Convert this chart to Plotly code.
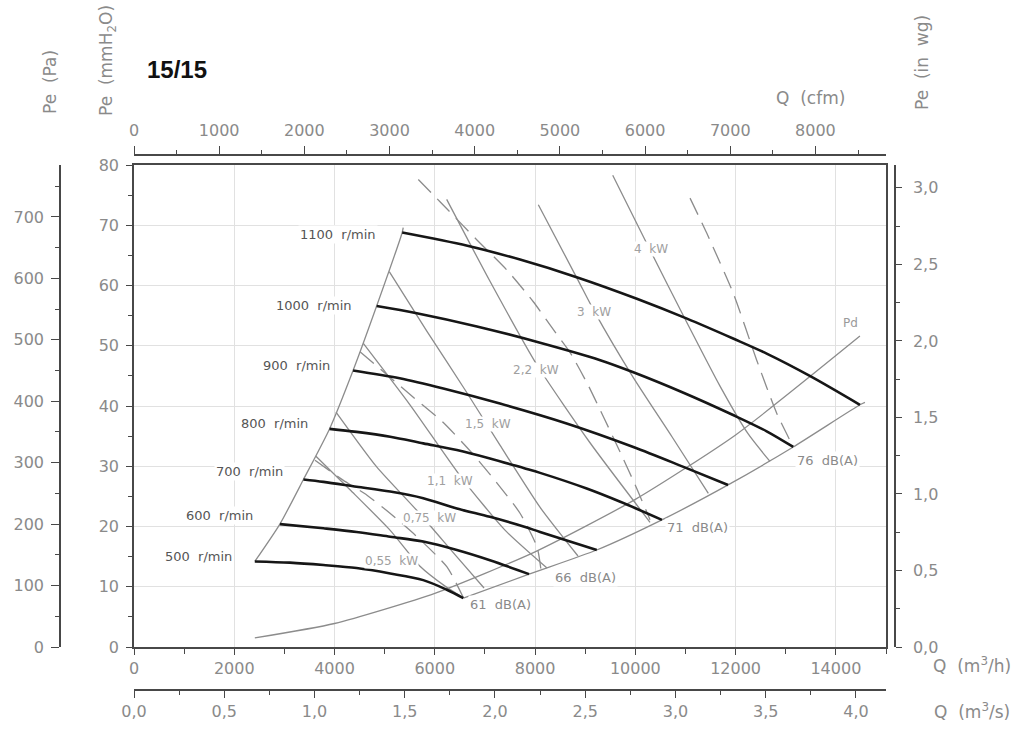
import plotly.graph_objects as go

W, H = 1022, 734

# ---------------- data (Q in m3/h, Pe in mmH2O) ----------------
speeds = [500, 600, 700, 800, 900, 1000, 1100]

q_500 = [2410, 3110, 3780, 4440, 5110, 5770, 6240, 6570]
pe_500 = [14.2, 14.0, 13.6, 13.1, 12.2, 11.1, 9.5, 8.1]
q_600 = [2910, 3780, 4440, 5110, 5770, 6440, 7100, 7880]
pe_600 = [20.4, 19.7, 19.1, 18.3, 17.5, 16.1, 14.4, 12.1]
q_700 = [3380, 3780, 4440, 5110, 5770, 6440, 7100, 7770, 8100, 9230]
pe_700 = [27.8, 27.4, 26.6, 25.8, 24.7, 23.0, 21.6, 20.0, 19.1, 16.1]
q_800 = [3900, 4440, 5110, 5770, 6440, 7100, 7770, 8100, 9030, 9700, 10530]
pe_800 = [36.2, 35.7, 34.9, 33.8, 32.7, 31.3, 29.7, 28.9, 26.3, 24.1, 21.1]
q_900 = [4370, 5300, 6170, 7300, 8630, 9960, 10960, 11850]
pe_900 = [45.9, 44.6, 42.9, 40.4, 37.1, 33.2, 29.9, 26.9]
q_1000 = [4840, 5640, 6840, 8100, 9300, 9960, 10960, 11950, 12620, 13150]
pe_1000 = [56.6, 55.4, 53.2, 50.5, 47.6, 45.6, 42.2, 38.5, 35.8, 33.2]
q_1100 = [5350, 6650, 7700, 8860, 10030, 11030, 11950, 12620, 13480, 14480]
pe_1100 = [68.8, 66.6, 64.3, 61.3, 57.8, 54.5, 51.2, 48.7, 45.0, 40.2]

# boundary extensions beyond the last speed curve
surge_top_q, surge_top_pe = [5370], [69.6]
limit_end_q, limit_end_pe = [14580], [40.6]

# dynamic pressure curve
pd_q = [2410, 4000, 6000, 8000, 10000, 12000, 14480]
pd_pe = [1.5, 3.9, 8.9, 15.8, 24.5, 35.2, 51.6]

# absorbed power lines
kw_labels = ["0,55 kW", "0,75 kW", "1,1 kW", "1,5 kW", "2,2 kW", "3 kW", "4 kW"]
kw055_q = [3624, 4309, 5106, 5705, 6204, 6503]
kw055_pe = [31.7, 26.1, 19.4, 13.4, 10.1, 8.5]
kw075_q = [4029, 4841, 5639, 6437, 6982]
kw075_pe = [39.0, 29.9, 22.7, 15.0, 9.8]
kw11_q = [4574, 5505, 6542, 7400, 8238]
kw11_pe = [50.4, 40.2, 28.0, 19.4, 13.1]
kw15_q = [5092, 5844, 6602, 7300, 8098, 8856]
kw15_pe = [62.3, 52.4, 42.7, 33.5, 23.2, 15.1]
kw22_q = [6237, 7101, 8039, 9096, 10293]
kw22_pe = [74.3, 60.7, 46.8, 33.9, 20.7]
kw3_q = [8065, 8856, 9176, 9954, 10731, 11456]
kw3_pe = [73.4, 60.9, 55.8, 44.8, 34.9, 25.5]
kw4_q = [9549, 10293, 11025, 11689, 12248, 12686]
kw4_pe = [78.3, 65.9, 53.9, 43.3, 35.4, 30.8]

# sound level lines
db_labels = ["61 dB(A)", "66 dB(A)", "71 dB(A)", "76 dB(A)"]
db61_q = [3610, 4169, 4648, 5106, 5645, 6243, 6563]
db61_pe = [31.0, 27.7, 25.2, 22.2, 18.3, 13.3, 8.3]
db66_q = [4508, 5565, 6164, 6742, 7241, 7700, 8039, 8118]
db66_pe = [49.0, 41.5, 37.3, 32.2, 27.2, 22.2, 16.6, 12.8]
db71_q = [5671, 6104, 6836, 7434, 7965, 8398, 8697, 9056, 9375, 9694, 10013, 10293]
db71_pe = [77.6, 73.9, 67.6, 62.6, 57.3, 52.3, 48.9, 43.5, 38.0, 32.4, 26.6, 21.1]
db76_q = [11091, 11424, 11954, 12421, 12820, 13151]
db76_pe = [74.5, 68.7, 58.7, 47.6, 38.8, 33.2]

# axis ticks
q_ticks = [0, 2000, 4000, 6000, 8000, 10000, 12000, 14000]
pe_ticks = [0, 10, 20, 30, 40, 50, 60, 70, 80]
pa_ticks = [0, 100, 200, 300, 400, 500, 600, 700]
cfm_ticks = [0, 1000, 2000, 3000, 4000, 5000, 6000, 7000, 8000]
m3s_ticks = [0, 0.5, 1.0, 1.5, 2.0, 2.5, 3.0, 3.5, 4.0]
inwg_ticks = [0, 0.5, 1.0, 1.5, 2.0, 2.5, 3.0]

Q_MAX, PE_MAX = 15000, 80
CFM_PER_M3H = 1 / 1.699011
PA_PER_MM = 9.80665
INWG_PER_MM = 1 / 25.4

# label placements (data coords)
kw_label_pos = [(5146, 14.2), (5904, 21.4), (6303, 27.6), (7061, 37.0),
                (8019, 46.0), (9176, 55.6), (10313, 66.1)]
db_label_pos = [(6662, 7.0), (8358, 11.6), (10592, 19.9), (13185, 31.0)]
rpm_label_pos = [(1995, 15.1), (2414, 21.9), (3012, 29.1), (3511, 37.1),
                 (3943, 46.8), (4388, 56.7), (4867, 68.5)]
pd_label_pos = (14282, 53.8)

# ---------------- figure ----------------
def px_x(x):
    return x / W


def px_y(y):
    return (H - y) / H


fig = go.Figure()

GREY = '#8c8c8c'


def add_line(q, p, color=GREY, width=1.3, dash=None, smooth=0.6):
    fig.add_trace(go.Scatter(
        x=q, y=p, mode='lines', hoverinfo='skip', showlegend=False,
        line=dict(color=color, width=width, dash=dash, shape='spline', smoothing=smooth),
        xaxis='x', yaxis='y'))


curves_q = [q_500, q_600, q_700, q_800, q_900, q_1000, q_1100]
curves_pe = [pe_500, pe_600, pe_700, pe_800, pe_900, pe_1000, pe_1100]

add_line(pd_q, pd_pe)
add_line([c[0] for c in curves_q] + surge_top_q, [c[0] for c in curves_pe] + surge_top_pe)
add_line([c[-1] for c in curves_q] + limit_end_q, [c[-1] for c in curves_pe] + limit_end_pe)

for q, p in [(kw055_q, kw055_pe), (kw075_q, kw075_pe), (kw11_q, kw11_pe), (kw15_q, kw15_pe),
             (kw22_q, kw22_pe), (kw3_q, kw3_pe), (kw4_q, kw4_pe)]:
    add_line(q, p)

for q, p in [(db61_q, db61_pe), (db66_q, db66_pe), (db71_q, db71_pe), (db76_q, db76_pe)]:
    add_line(q, p, dash='18px,9px')

for q, p in zip(curves_q, curves_pe):
    add_line(q, p, color='#161616', width=2.6, smooth=0.9)

for xa, ya in [('x2', 'y'), ('x3', 'y'), ('x', 'y2'), ('x', 'y3')]:
    fig.add_trace(go.Scatter(x=[None], y=[None], xaxis=xa, yaxis=ya,
                             showlegend=False, hoverinfo='skip'))

AX = '#484848'
TF = dict(family='DejaVu Sans', size=16, color='#8a8a8a')
x_dom = [px_x(134), px_x(886)]
y_dom = [px_y(647), px_y(165)]


def comma(v):
    return f"{v:.1f}".replace('.', ',')


common = dict(showline=True, linecolor=AX, linewidth=1.5, ticks='outside', tickcolor=AX,
              tickwidth=1.3, zeroline=False, tickfont=TF, fixedrange=True, tickmode='array',
              automargin=False)

fig.update_layout(
    template='none',
    font=dict(family='DejaVu Sans', color='#8a8a8a'),
    width=W, height=H, margin=dict(l=0, r=0, t=0, b=0, pad=0, autoexpand=False),
    paper_bgcolor='white', plot_bgcolor='white', showlegend=False,
    xaxis=dict(domain=x_dom, range=[0, Q_MAX], anchor='y', tickvals=q_ticks,
               ticktext=[str(v) for v in q_ticks], ticklen=6, mirror=True,
               showgrid=True, gridcolor='#e1e1e1', gridwidth=1,
               minor=dict(dtick=1000, tick0=0, ticks='outside', ticklen=5, tickcolor=AX, showgrid=False),
               **common),
    yaxis=dict(domain=y_dom, range=[0, PE_MAX], anchor='x', tickvals=pe_ticks,
               ticktext=[str(v) for v in pe_ticks], ticklen=6, mirror=True,
               showgrid=True, gridcolor='#e1e1e1', gridwidth=1, ticklabelstandoff=4,
               minor=dict(dtick=5, tick0=0, ticks='outside', ticklen=4, tickcolor=AX, showgrid=False),
               **common),
    xaxis2=dict(overlaying='x', anchor='free', position=px_y(155), side='top',
                range=[0, Q_MAX * CFM_PER_M3H], tickvals=cfm_ticks,
                ticktext=[str(v) for v in cfm_ticks], ticklen=8, showgrid=False,
                ticklabelstandoff=4,
                minor=dict(dtick=500, tick0=0, ticks='outside', ticklen=4, tickcolor=AX, showgrid=False),
                **common),
    xaxis3=dict(overlaying='x', anchor='free', position=px_y(690), side='bottom',
                range=[0, Q_MAX / 3600], tickvals=m3s_ticks,
                ticktext=[comma(v) for v in m3s_ticks], ticklen=7, showgrid=False,
                minor=dict(dtick=0.25, tick0=0, ticks='outside', ticklen=4, tickcolor=AX, showgrid=False),
                **common),
    yaxis2=dict(overlaying='y', anchor='free', position=px_x(60), side='left',
                range=[0, PE_MAX * PA_PER_MM], tickvals=pa_ticks,
                ticktext=[str(v) for v in pa_ticks], ticklen=8, showgrid=False,
                ticklabelstandoff=4,
                minor=dict(dtick=50, tick0=0, ticks='outside', ticklen=4, tickcolor=AX, showgrid=False),
                **common),
    yaxis3=dict(overlaying='y', anchor='free', position=px_x(895), side='right',
                range=[0, PE_MAX * INWG_PER_MM], tickvals=inwg_ticks,
                ticktext=[comma(v) for v in inwg_ticks], ticklen=6, showgrid=False,
                ticklabelstandoff=8,
                minor=dict(dtick=0.25, tick0=0, ticks='outside', ticklen=4, tickcolor=AX, showgrid=False),
                **common),
)

NB = '\u00a0\u00a0'
ann = []
for (x, y), s in zip(rpm_label_pos, speeds):
    ann.append(dict(x=x, y=y, xref='x', yref='y', text=f"{s}{NB}r/min", showarrow=False,
                    xanchor='right', yanchor='middle', bgcolor='white', borderpad=1,
                    font=dict(family='DejaVu Sans', size=13, color='#555555')))
for (x, y), t in zip(kw_label_pos, kw_labels):
    ann.append(dict(x=x, y=y, xref='x', yref='y', text=t.replace(' ', NB), showarrow=False,
                    xanchor='center', yanchor='middle', bgcolor='white', borderpad=0,
                    font=dict(family='DejaVu Sans', size=12, color='#a0a0a0')))
for (x, y), t in zip(db_label_pos, db_labels):
    ann.append(dict(x=x, y=y, xref='x', yref='y', text=t.replace(' ', NB), showarrow=False,
                    xanchor='left', yanchor='middle', bgcolor='white', borderpad=1,
                    font=dict(family='DejaVu Sans', size=13, color='#8a8a8a')))
ann.append(dict(x=pd_label_pos[0], y=pd_label_pos[1], xref='x', yref='y', text='Pd',
                showarrow=False, xanchor='center', yanchor='middle',
                font=dict(family='DejaVu Sans', size=12, color='#9a9a9a')))

TITLE_F = dict(family='DejaVu Sans', size=17, color='#8a8a8a')


def paper_text(x, y, text, font, angle=0):
    return dict(x=px_x(x), y=px_y(y), xref='paper', yref='paper', text=text, textangle=angle,
                showarrow=False, xanchor='center', yanchor='middle', font=font)


ann += [
    paper_text(177, 70, '<b>15/15</b>', dict(family='Liberation Sans', size=24, color='#111111')),
    paper_text(50, 82, f'Pe{NB}(Pa)', TITLE_F, -90),
    paper_text(108, 61, f'Pe{NB}(mmH<sub>2</sub>O)', TITLE_F, -90),
    paper_text(922, 63, f'Pe{NB}(in{NB}wg)', TITLE_F, -90),
    paper_text(810, 98, f'Q{NB}(cfm)', TITLE_F),
    paper_text(972, 665, f'Q{NB}(m<sup>3</sup>/h)', TITLE_F),
    paper_text(972, 711, f'Q{NB}(m<sup>3</sup>/s)', TITLE_F),
]
fig.update_layout(annotations=ann)

fig.write_html("out.html",
               config={'displayModeBar': False},
               post_script="document.body.style.margin='0px';document.body.style.padding='0px';")
